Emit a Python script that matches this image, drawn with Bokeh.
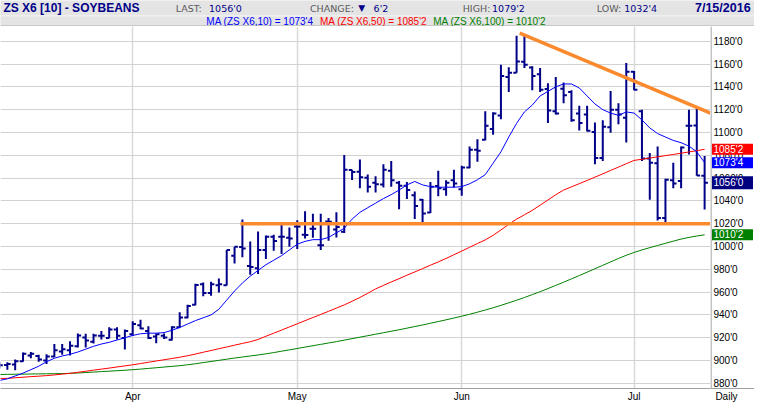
import pandas as pd
from bokeh.plotting import figure
from bokeh.models import ColumnDataSource, Range1d, FixedTicker, Span
from bokeh.layouts import column, row
from bokeh.core.properties import value
from bokeh.embed import file_html
from bokeh.resources import INLINE

# ---------------- data ----------------
holidays = ["2016-03-25", "2016-05-30", "2016-07-04"]
dates = [d for d in pd.bdate_range("2016-03-08", "2016-07-15") if d.strftime("%Y-%m-%d") not in holidays]

opens = [896,
    896, 896.5, 899.5, 904.5, 904, 900, 903.5, 908, 909, 912.5,
    920.3, 916.5, 921.7, 919.7, 927.3, 919.7, 923, 931, 925.9, 921.1,
    921.7, 918.3, 929.3, 937.7, 949, 966.8, 959.2, 966, 966, 992,
    999.6, 983, 981, 997, 1008.5, 1008.5, 1007.6, 1017.5, 1010.4, 1015.5,
    1001, 1022, 1015, 1013, 1067, 1065.6, 1060.3, 1056, 1054.4, 1066.5,
    1056, 1053.2, 1045, 1041.1, 1029.9, 1053, 1050.1, 1058, 1050.1, 1069.3,
    1084.8, 1093.5, 1103.1, 1114.9, 1148.7, 1152.4, 1162, 1157, 1151, 1138,
    1118.6, 1138.3, 1135.5, 1116.6, 1115.8, 1100.5, 1077.7, 1104.5, 1120, 1113,
    1153.2, 1118.6, 1077.2, 1073, 1025, 1058, 1057.5, 1105.9, 1106, 1062]
highs = [899,
    898.5, 901, 907, 907.5, 905, 905.6, 914.5, 914.5, 917, 923.7,
    923.5, 923.5, 926, 929.3, 929.3, 927.3, 934.4, 935.8, 930, 923.7,
    923.7, 930.1, 942.3, 949, 967.3, 968.5, 969, 972, 996.9, 999.7,
    1023.7, 1004.3, 1013.2, 1009.6, 1010.4, 1018.9, 1016.6, 1023, 1031, 1028.7,
    1028.7, 1025, 1030, 1080.3, 1067.3, 1076.3, 1063.1, 1061.7, 1072.1, 1074.9,
    1057.5, 1056.6, 1048.2, 1041.7, 1056.6, 1066.5, 1058, 1067.3, 1070.7, 1087.6,
    1094.1, 1118.6, 1117.7, 1159.4, 1157.2, 1184.8, 1186.2, 1158, 1156.6, 1143.1,
    1148.7, 1143.9, 1136.9, 1123.4, 1123.4, 1108.7, 1110.7, 1136.3, 1125.6, 1160.8,
    1153.8, 1120, 1082, 1087.6, 1059.4, 1073.5, 1087.6, 1120, 1121.4, 1079.25]
lows = [893,
    892, 891.5, 899, 902, 899, 897, 903, 905, 904.5, 911.5,
    911.5, 915, 918.5, 919.5, 918.5, 909.6, 921.7, 927.5, 918.9, 915.2,
    918.9, 917.5, 928.7, 937.2, 948.4, 956.3, 956.9, 959.7, 965.9, 985,
    990.5, 975.2, 976, 989, 996.3, 993.5, 999.7, 997.8, 1007, 1007.6,
    997, 1005, 1008, 1011.8, 1058.3, 1051, 1047.3, 1047.3, 1051.8, 1052.4,
    1032.7, 1041.7, 1024.2, 1020.6, 1029.3, 1044, 1044.5, 1051.8, 1044.5, 1068.7,
    1074.4, 1093.2, 1098, 1111.5, 1135.5, 1152.4, 1156.6, 1136.9, 1135.5, 1108.2,
    1115.8, 1125.6, 1109.3, 1101.7, 1100.8, 1072.1, 1074.9, 1099.7, 1107.3, 1091.3,
    1136.9, 1074.9, 1041.1, 1022.8, 1020.8, 1051, 1051, 1080.6, 1062, 1032.5]
closes = [895.8,
    897, 899.5, 906, 906, 901, 903.5, 909, 910, 913, 922,
    917.5, 922, 921.7, 927.3, 921.7, 925.9, 932, 928, 919.7, 923.1,
    920.3, 929.3, 937.7, 947.9, 966.2, 959.2, 966.8, 967, 996.9, 999.7,
    998.2, 982, 997, 1008.6, 1004.8, 1008.5, 1007, 1017.5, 1010, 1015.5,
    1001, 1021.7, 1017, 1067.3, 1065.4, 1060.8, 1052.4, 1054.5, 1067.3, 1058,
    1053.2, 1049.6, 1035.5, 1029, 1052.4, 1051, 1055.8, 1055.2, 1069.3, 1084.8,
    1083.9, 1105.9, 1116.6, 1149.6, 1152.4, 1162.3, 1159.4, 1149.6, 1137.5, 1119.2,
    1116.6, 1132.7, 1110.7, 1108.2, 1101.4, 1077.7, 1105.1, 1120, 1115.8, 1153.2,
    1137.5, 1077.2, 1073.5, 1025, 1058.6, 1055.2, 1086.8, 1105.9, 1062.25, 1056]
ma10 = [882.5,
    884, 886.5, 889, 892, 895, 899, 902, 904, 905.5, 907.5,
    910, 912.5, 914.5, 916, 918, 920, 922, 923.5, 924, 924,
    924.5, 926.5, 929, 932, 935, 937.5, 940, 945, 953, 961,
    968, 974, 979, 984, 988, 992, 997, 1002, 1004.5, 1006,
    1006, 1008, 1012, 1016, 1024, 1030, 1034, 1038, 1042, 1045.5,
    1049.5, 1054, 1057, 1054, 1052.5, 1052, 1052, 1052, 1052.5, 1055,
    1058.5, 1063, 1073, 1083, 1096, 1108, 1118, 1124, 1132, 1136,
    1140, 1142.5, 1142.5, 1139, 1132, 1125, 1120, 1117, 1115, 1118,
    1117, 1111, 1104, 1099, 1096, 1093, 1091, 1088, 1083, 1073.5]
ma50 = [884.3,
    884.4, 884.9, 885.4, 885.9, 886.3, 886.8, 887.4, 888.1, 888.8, 889.7,
    890.6, 891.6, 892.5, 893.4, 894.4, 895.3, 896.3, 897.4, 898.5, 899.6,
    900.7, 901.8, 902.9, 904.2, 905.7, 907.3, 908.8, 910.4, 911.9, 913.5,
    915, 916.5, 918.5, 921.3, 924, 926.7, 929.5, 932.2, 935, 937.7,
    940.4, 943.2, 946, 948.8, 952, 955.3, 959, 962.8, 965.9, 968.9,
    971.8, 974.8, 977.7, 980.6, 983.6, 986.5, 989.5, 992.8, 996, 999.3,
    1002.6, 1005.8, 1009.8, 1014.5, 1019.5, 1024, 1027.8, 1031.7, 1036.2, 1040.8,
    1045.4, 1049.5, 1052.3, 1055.1, 1057.9, 1060.8, 1063.7, 1066.7, 1069.6, 1072.6,
    1075.5, 1076.5, 1077.6, 1078.6, 1079.7, 1080.7, 1081.8, 1082.9, 1084, 1085.25]
ma100 = [887.8,
    887.9, 888, 888.1, 888.2, 888.3, 888.4, 888.5, 888.6, 888.8, 889.1,
    889.5, 889.9, 890.3, 890.7, 891.1, 891.5, 892, 892.5, 893.1, 893.7,
    894.3, 894.9, 895.5, 896.3, 897.2, 898.2, 899.2, 900.2, 901.2, 902.2,
    903.1, 904, 904.9, 905.9, 907, 908.2, 909.4, 910.6, 911.8, 913,
    914.2, 915.4, 916.6, 917.9, 919.2, 920.5, 921.8, 923.1, 924.4, 925.7,
    927, 928.4, 929.8, 931.2, 932.7, 934.2, 935.7, 937.3, 938.9, 940.6,
    942.4, 944.3, 946.3, 948.4, 950.6, 952.9, 955.3, 957.8, 960.4, 963.1,
    965.9, 968.7, 971.6, 974.5, 977.5, 980.5, 983.5, 986.5, 989.5, 992.3,
    994.8, 997, 999, 1000.9, 1002.8, 1004.7, 1006.5, 1008, 1009.2, 1010.25]

support_x = [30.75, 90.75]
support_y = [1020, 1020]
trend_x = [66.4, 90.75]
trend_y = [1187, 1117]

y_ticks = list(range(880, 1181, 20))
last_price = closes[-1]
high_price = highs[-1]
low_price = lows[-1]
change = closes[-1] - closes[-2]


def fmt(v):
    w = int(v // 1)
    e = int(round((v - w) * 8))
    return f"{w}'{e}"


n = len(dates)
xs = list(range(n))
month_ticks = [i for i in range(1, n) if dates[i].month != dates[i - 1].month]
month_labels = {i: dates[i].strftime("%b") for i in month_ticks}

FONT = "Liberation Sans"
NAVY = "#000088"
GRAYLINE = "#8a8a8a"

# ---------------- header ----------------
h = figure(width=754, height=26, x_range=Range1d(0, 770), y_range=Range1d(27, 0),
           output_backend="svg", toolbar_location=None, min_border=0,
           x_axis_location=None, y_axis_location=None)
h.grid.visible = False
h.outline_line_color = None
h.background_fill_color = "#e4e4e4"
h.border_fill_color = "#e4e4e4"
h.segment(x0=[0, 0], y0=[16, 26.5], x1=[770, 770], y1=[16, 26.5],
          line_color=["#f6f6f6", "#a8a8a8"], line_width=1)

h.text(x=[3], y=[8], text=["ZS X6 [10] - SOYBEANS"], text_font=value(FONT),
       text_font_size="12px", text_font_style="bold", text_color=NAVY,
       text_align="left", text_baseline="middle")
h.text(x=[766], y=[8], text=[dates[-1].strftime("%-m/%-d/%Y")], text_font=value(FONT),
       text_font_size="12.5px", text_font_style="bold", text_color=NAVY,
       text_align="right", text_baseline="middle")
h.text(x=[179, 316, 472, 609], y=[8] * 4, text=["LAST:", "CHANGE:", "HIGH:", "LOW:"],
       text_font=value("DejaVu Sans"), text_font_size="9.5px", text_color="#5a5a5a",
       text_align="left", text_baseline="middle")
h.text(x=[213, 381, 502, 637], y=[8] * 4,
       text=[fmt(last_price), fmt(abs(change)), fmt(high_price), fmt(low_price)],
       text_font=value("DejaVu Sans"), text_font_size="9.5px", text_color=NAVY,
       text_align="left", text_baseline="middle")
h.text(x=[369], y=[8], text=["\u25bc" if change < 0 else "\u25b2"], text_font=value("DejaVu Sans"),
       text_font_size="9px", text_color=NAVY, text_align="center", text_baseline="middle")
h.text(x=[265, 381, 499.5], y=[21.5] * 3,
       text=[f"MA (ZS X6,10) = {fmt(ma10[-1])}", f"MA (ZS X6,50) = {fmt(ma50[-1])}",
             f"MA (ZS X6,100) = {fmt(ma100[-1])}"],
       text_font=value(FONT), text_font_size="10px",
       text_color=["#0000ff", "#ff0000", "#008000"], text_align="center", text_baseline="middle")

# ---------------- main chart ----------------
p = figure(width=710, height=378, x_range=Range1d(0.125, 90.75), y_range=Range1d(875.5, 1192.9),
           y_axis_location=None, output_backend="svg", toolbar_location=None,
           min_border_left=0, min_border_right=0, min_border_top=0, min_border_bottom=16)
p.outline_line_color = None
p.background_fill_color = "white"
p.border_fill_color = "white"

yt = FixedTicker(ticks=y_ticks)
xt = FixedTicker(ticks=month_ticks)
p.ygrid.ticker = yt
p.xaxis.ticker = xt
p.xgrid.ticker = xt
p.xaxis.major_label_overrides = month_labels
p.xaxis.major_tick_line_color = None
p.xaxis.minor_tick_line_color = None
p.xaxis.major_tick_out = 0
p.xaxis.major_label_text_font = FONT
p.xaxis.major_label_text_font_size = "10px"
p.xaxis.major_label_text_color = "black"
p.xaxis.axis_line_color = "#a0a0a0"
p.xaxis.major_label_standoff = 2

p.ygrid.grid_line_color = "#d2d2d2"
p.ygrid.grid_line_width = 1
p.xgrid.grid_line_color = "#dadada"
p.xgrid.grid_line_width = 1.5

src = ColumnDataSource(dict(x=xs, xl=[x - 0.42 for x in xs], xr=[x + 0.42 for x in xs],
                            o=opens, h=highs, l=lows, c=closes))
p.segment(x0="x", y0="l", x1="x", y1="h", source=src, line_color=NAVY, line_width=2)
p.segment(x0="xl", y0="o", x1="x", y1="o", source=src, line_color=NAVY, line_width=2)
p.segment(x0="x", y0="c", x1="xr", y1="c", source=src, line_color=NAVY, line_width=2)

p.line(xs, ma100, line_color="#008000", line_width=1)
p.line(xs, ma50, line_color="#ff0000", line_width=1)
p.line(xs, ma10, line_color="#0000ff", line_width=1)

p.line(support_x, support_y, line_color="#fb8a2e", line_width=3.5)
p.line(trend_x, trend_y, line_color="#fb8a2e", line_width=3.5)

# ---------------- right price scale (shares the y scale) ----------------
s = figure(width=44, height=378, x_range=Range1d(0, 44), y_range=p.y_range,
           y_axis_location=None, output_backend="svg", toolbar_location=None,
           min_border_left=0, min_border_right=0, min_border_top=0, min_border_bottom=16)
s.grid.visible = False
s.outline_line_color = None
s.background_fill_color = "white"
s.border_fill_color = "white"
s.xaxis.ticker = FixedTicker(ticks=[16])
s.xaxis.major_label_overrides = {16: "Daily"}
s.xaxis.major_tick_line_color = None
s.xaxis.minor_tick_line_color = None
s.xaxis.major_tick_out = 0
s.xaxis.major_label_text_font = FONT
s.xaxis.major_label_text_font_size = "10px"
s.xaxis.major_label_text_color = "black"
s.xaxis.axis_line_color = "#a0a0a0"
s.xaxis.major_label_standoff = 2

s.add_layout(Span(location=0.5, dimension="height", line_color=GRAYLINE, line_width=1))
s.text(x=[3] * len(y_ticks), y=y_ticks, text=[fmt(t) for t in y_ticks],
       text_font=value(FONT), text_font_size="10px", text_color="black",
       text_align="left", text_baseline="middle")

box_vals = [ma50[-1], ma10[-1], last_price, ma100[-1]]
box_cols = ["#ff0000", "#0000ff", "#000080", "#008000"]
box_h = [11, 11, 13, 11]
s.rect(x=[22] * 4, y=box_vals, width=41, height=box_h, height_units="screen",
       fill_color=box_cols, line_color=None)
s.text(x=[3] * 4, y=box_vals, text=[fmt(v) for v in box_vals], text_font=value(FONT),
       text_font_size="10px", text_color="white", text_align="left", text_baseline="middle")

layout = column(h, row(p, s, spacing=0), spacing=0)
open("out.html", "w").write(file_html(layout, INLINE))
